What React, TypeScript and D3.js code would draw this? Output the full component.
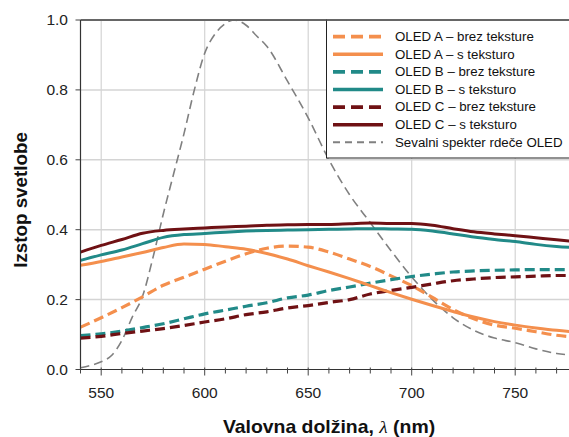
import React from "react";
import * as d3 from "d3";

// wavelengths (nm) for the OLED curves
const lambda = [
  540, 550, 560, 570, 580, 590, 600, 610, 620, 630, 640, 650, 660, 670, 680,
  690, 700, 710, 720, 730, 740, 750, 760, 770, 780,
];

const oledAFlat = [
  0.121, 0.148, 0.177, 0.208, 0.241, 0.264, 0.287, 0.31, 0.331, 0.347, 0.353,
  0.35, 0.336, 0.316, 0.295, 0.268, 0.24, 0.206, 0.172, 0.145, 0.127, 0.118,
  0.108, 0.098, 0.092,
];
const oledATex = [
  0.298, 0.309, 0.322, 0.335, 0.349, 0.359, 0.358, 0.351, 0.344, 0.332, 0.316,
  0.297, 0.279, 0.26, 0.24, 0.22, 0.201, 0.183, 0.166, 0.15, 0.137, 0.127,
  0.119, 0.112, 0.107,
];
const oledBFlat = [
  0.097, 0.102, 0.11, 0.12, 0.131, 0.145, 0.159, 0.17, 0.181, 0.191, 0.205,
  0.213, 0.226, 0.236, 0.247, 0.257, 0.266, 0.273, 0.279, 0.282, 0.284, 0.285,
  0.286, 0.286, 0.286,
];
const oledBTex = [
  0.312, 0.328, 0.342, 0.36, 0.378, 0.386, 0.389, 0.393, 0.396, 0.398, 0.399,
  0.4, 0.401, 0.402, 0.403, 0.402, 0.401, 0.396, 0.388, 0.379, 0.372, 0.366,
  0.358, 0.352, 0.348,
];
const oledCFlat = [
  0.09, 0.095, 0.103, 0.11, 0.117, 0.126, 0.136, 0.145, 0.157, 0.165, 0.176,
  0.183, 0.192, 0.2, 0.216, 0.226, 0.235, 0.245, 0.254, 0.259, 0.263, 0.265,
  0.267, 0.269, 0.269,
];
const oledCTex = [
  0.336, 0.355, 0.372, 0.39, 0.398, 0.402, 0.405, 0.408, 0.41, 0.413, 0.414,
  0.415, 0.415, 0.417, 0.419, 0.418, 0.418, 0.413, 0.403, 0.394, 0.388, 0.383,
  0.377, 0.371, 0.366,
];

// emission spectrum of the red OLED
const specLambda = [
  540, 545, 550, 555, 560, 565, 570, 575, 580, 585, 590, 595, 600, 605, 610,
  614, 620, 625, 630, 640, 650, 660, 670, 680, 690, 700, 710, 720, 730, 740,
  750, 760, 770, 780,
];
const specValues = [
  0.005, 0.012, 0.022, 0.04, 0.083, 0.15, 0.21, 0.32, 0.445, 0.56, 0.675, 0.8,
  0.905, 0.96, 0.99, 1.0, 0.985, 0.955, 0.925, 0.825, 0.72, 0.6, 0.5, 0.42,
  0.34, 0.265, 0.2, 0.148, 0.112, 0.09, 0.077, 0.059, 0.046, 0.04,
];

const xTicks = [550, 600, 650, 700, 750];
const yTicks = [0, 0.2, 0.4, 0.6, 0.8, 1.0];

const ORANGE = "#f48f4d";
const TEAL = "#218a88";
const DARKRED = "#6f1114";
const GRAY = "#808080";

const series = [
  { label: "OLED A \u2013 brez teksture", x: lambda, y: oledAFlat, color: ORANGE, dash: "10,5", w: 3.2 },
  { label: "OLED A \u2013 s teksturo", x: lambda, y: oledATex, color: ORANGE, dash: "", w: 3 },
  { label: "OLED B \u2013 brez teksture", x: lambda, y: oledBFlat, color: TEAL, dash: "10,5", w: 3.2 },
  { label: "OLED B \u2013 s teksturo", x: lambda, y: oledBTex, color: TEAL, dash: "", w: 3 },
  { label: "OLED C \u2013 brez teksture", x: lambda, y: oledCFlat, color: DARKRED, dash: "10,5", w: 3.2 },
  { label: "OLED C \u2013 s teksturo", x: lambda, y: oledCTex, color: DARKRED, dash: "", w: 3 },
  { label: "Sevalni spekter rde\u010De OLED", x: specLambda, y: specValues, color: GRAY, dash: "9,5", w: 1.6 },
];

const W = 569;
const H = 437;
const left = 80.5;
const top = 20;
const bottom = 369.5;
// the source picture is a little wider than tall; stretch text to match
const SX = 1.11;

const App = () => {
  const xScale = d3.scaleLinear().domain([540, 780]).range([left, left + 240 * 2.07]);
  const yScale = d3.scaleLinear().domain([0, 1]).range([bottom, top]);
  const right = xScale(780);
  const font = "'Liberation Sans', Arial, sans-serif";

  const minor = d3.range(540, 781, 10);

  const lineGen = (xs: number[], ys: number[]) =>
    d3
      .line<number>()
      .x((_, i) => xScale(xs[i]))
      .y((d) => yScale(d))
      .curve(d3.curveMonotoneX)(ys) || "";

  // draw order: spectrum under the OLED curves
  const drawOrder = [6, 0, 2, 4, 1, 3, 5];

  const legX = 326.5;
  const legTop = 20;
  const legRowY = (i: number) => 36.7 + i * 17.6;

  return (
    <svg
      width={W}
      height={H}
      style={{ position: "absolute", left: 0, top: 0, background: "#fff" }}
      fontFamily={font}
    >
      <defs>
        <clipPath id="plot">
          <rect x={left} y={top - 2} width={right - left} height={bottom - top + 2} />
        </clipPath>
      </defs>

      {/* gridlines */}
      {yTicks.slice(1, -1).map((t) => (
        <line key={"gy" + t} x1={left} x2={right} y1={yScale(t)} y2={yScale(t)} stroke="#d4d4d4" strokeWidth={1.5} />
      ))}
      {xTicks.map((t) => (
        <line key={"gx" + t} x1={xScale(t)} x2={xScale(t)} y1={top} y2={bottom} stroke="#d4d4d4" strokeWidth={1.2} />
      ))}

      {/* curves */}
      <g clipPath="url(#plot)">
        {drawOrder.map((i) => {
          const s = series[i];
          return (
            <path
              key={s.label}
              d={lineGen(s.x, s.y)}
              fill="none"
              stroke={s.color}
              strokeWidth={s.w}
              strokeDasharray={s.dash || undefined}
            />
          );
        })}
      </g>

      {/* frame */}
      <line x1={left} x2={right} y1={top} y2={top} stroke="#666" strokeWidth={2} />
      <line x1={left} x2={left} y1={top} y2={bottom} stroke="#333" strokeWidth={1.2} />
      <line x1={left} x2={right} y1={bottom} y2={bottom} stroke="#333" strokeWidth={1.2} />

      {/* x ticks */}
      {minor.map((t) => (
        <line
          key={"mx" + t}
          x1={xScale(t)}
          x2={xScale(t)}
          y1={bottom - 2}
          y2={bottom + (t % 50 === 0 ? 6 : 4)}
          stroke="#444"
          strokeWidth={1}
        />
      ))}
      {xTicks.map((t) => (
        <text
          key={"tx" + t}
          transform={`translate(${xScale(t)},398) scale(${SX},1)`}
          textAnchor="middle"
          fontSize={14}
          fill="#222"
        >
          {t}
        </text>
      ))}

      {/* y ticks */}
      {yTicks.map((t) => (
        <g key={"ty" + t}>
          <line x1={left - 5} x2={left} y1={yScale(t)} y2={yScale(t)} stroke="#444" strokeWidth={1} />
          <text
            transform={`translate(68,${yScale(t) + 5}) scale(${SX},1)`}
            textAnchor="end"
            fontSize={14}
            fill="#222"
          >
            {t.toFixed(1)}
          </text>
        </g>
      ))}

      {/* axis titles */}
      <text
        transform={`translate(27,200) rotate(-90)`}
        textAnchor="middle"
        fontSize={18.8}
        fontWeight="bold"
        fill="#111"
      >
        Izstop svetlobe
      </text>
      <text
        transform={`translate(329,433) scale(${SX},1)`}
        textAnchor="middle"
        fontSize={17.5}
        fontWeight="bold"
        fill="#111"
      >
        Valovna dol{"\u017E"}ina,{" "}
        <tspan fontFamily="'Liberation Serif', 'DejaVu Serif', serif" fontStyle="italic" fontWeight="normal">
          {"\u03BB"}
        </tspan>{" "}
        (nm)
      </text>

      {/* legend */}
      <rect x={legX} y={legTop} width={W} height={158 - legTop} fill="#fff" stroke="#222" strokeWidth={1} />
      <line x1={legX} x2={W} y1={top} y2={top} stroke="#666" strokeWidth={2} />
      {series.map((s, i) => (
        <g key={"lg" + i}>
          <line
            x1={333}
            x2={383}
            y1={legRowY(i)}
            y2={legRowY(i)}
            stroke={s.color}
            strokeWidth={s.w + 0.5}
            strokeDasharray={s.dash ? (i === 6 ? "7,5" : "12,6") : undefined}
          />
          <text
            transform={`translate(395,${legRowY(i) + 4.3}) scale(1.08,1)`}
            fontSize={12.3}
            fill="#111"
          >
            {s.label}
          </text>
        </g>
      ))}
    </svg>
  );
};

export default App;
